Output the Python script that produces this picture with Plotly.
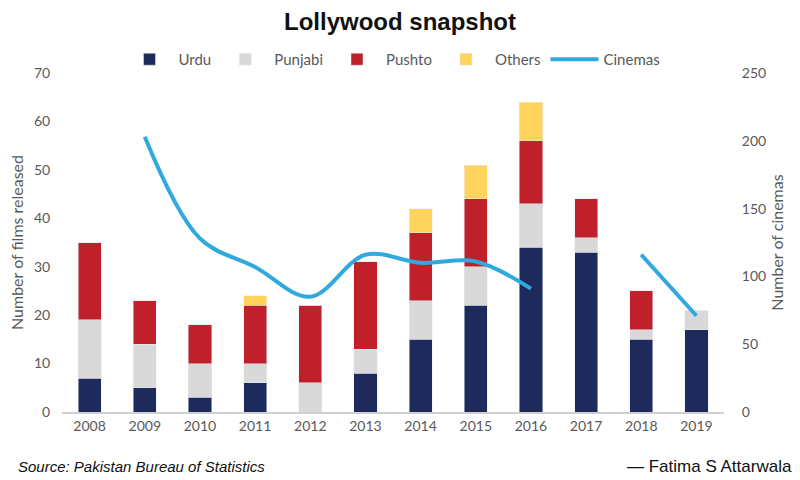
import plotly.graph_objects as go

years = ["2008", "2009", "2010", "2011", "2012", "2013", "2014", "2015", "2016", "2017", "2018", "2019"]
urdu = [7, 5, 3, 6, 0, 8, 15, 22, 34, 33, 15, 17]
punjabi = [12, 9, 7, 4, 6, 5, 8, 8, 9, 3, 2, 4]
pushto = [16, 9, 8, 12, 16, 18, 14, 14, 13, 8, 8, 0]
others = [0, 0, 0, 2, 0, 0, 5, 7, 8, 0, 0, 0]
cinemas = [None, 203, 128, 107, 85, 116, 110, 111, 91, None, 116, 71]

tick_font = dict(family="Lato, Open Sans, sans-serif", size=14, color="#595959")

fig = go.Figure()
fig.add_bar(x=years, y=urdu, name="Urdu", marker_color="#1f2a5c")
fig.add_bar(x=years, y=punjabi, name="Punjabi", marker_color="#d9d9d9")
fig.add_bar(x=years, y=pushto, name="Pushto", marker_color="#c0202a")
fig.add_bar(x=years, y=others, name="Others", marker_color="#ffd35c")
fig.add_scatter(x=years, y=cinemas, name="Cinemas", mode="lines", yaxis="y2",
                line=dict(color="#2fa9de", width=4, shape="spline", smoothing=1.0),
                connectgaps=False)

fig.update_layout(
    width=800, height=480,
    barmode="stack", bargap=0.58,
    paper_bgcolor="white", plot_bgcolor="white",
    margin=dict(l=62, r=76, t=73, b=68),
    title=dict(text="<b>Lollywood snapshot</b>", x=0.5, xanchor="center", y=0.955, yanchor="middle",
               font=dict(family="Liberation Sans Narrow, Arial Narrow, sans-serif", size=24, color="#111")),
    legend=dict(orientation="h", x=0.5, xanchor="center", y=1.04, yanchor="middle",
                font=dict(family="Lato, Open Sans, sans-serif", size=15, color="#595959"),
                traceorder="normal", itemwidth=48, bgcolor="rgba(0,0,0,0)"),
    xaxis=dict(type="category", showline=True, linecolor="#d0d0d0", linewidth=1.5,
               showgrid=False, ticks="", tickfont=tick_font),
    yaxis=dict(range=[0, 70], dtick=10, showgrid=False, zeroline=False, showline=False,
               tickfont=tick_font, ticks="outside", ticklen=8, tickcolor="white",
               title=dict(text="Number of films released", font=dict(family="Lato, Open Sans, sans-serif", size=16, color="#595959"), standoff=6)),
    yaxis2=dict(range=[0, 250], dtick=50, overlaying="y", side="right", showgrid=False, zeroline=False,
                tickfont=tick_font, ticks="outside", ticklen=14, tickcolor="white",
                title=dict(text="Number of cinemas", font=dict(family="Lato, Open Sans, sans-serif", size=16, color="#595959"), standoff=6)),
)
fig.add_annotation(text="<i>Source: Pakistan Bureau of Statistics</i>", xref="paper", yref="paper",
                   x=(16 - 62) / 662, y=-(466 - 412) / 339, xanchor="left", yanchor="middle", showarrow=False,
                   font=dict(family="Liberation Sans Narrow, Arial Narrow, sans-serif", size=15, color="#111"))
fig.add_annotation(text="— Fatima S Attarwala", xref="paper", yref="paper",
                   x=(794 - 62) / 662, y=-(466 - 412) / 339, xanchor="right", yanchor="middle", showarrow=False,
                   font=dict(family="Liberation Sans, Arial, sans-serif", size=17, color="#111"))

fig.write_html("out.html")
